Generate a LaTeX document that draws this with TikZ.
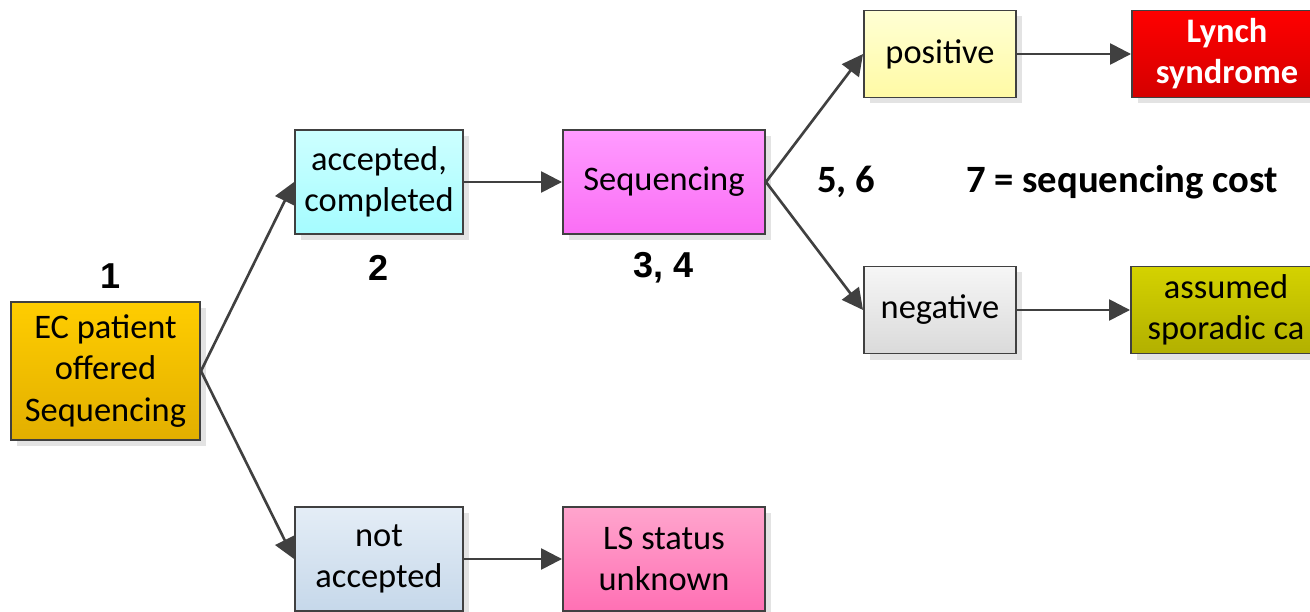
\documentclass[tikz,border=0pt]{standalone}
\usepackage{fontspec}
\setmainfont{Carlito}
\newfontfamily\stepfont{Liberation Sans}
\usepackage{tikz}
\usetikzlibrary{shapes,arrows.meta,shadows,positioning}
\definecolor{edgegray}{RGB}{64,64,64}
\tikzstyle{block} = [rectangle, draw=edgegray, line width=1.1pt, align=center,
minimum width=3.36cm, minimum height=2.08cm, inner sep=2pt,
font=\fontsize{19.6}{23.4}\selectfont,
drop shadow={shadow xshift=0.12cm, shadow yshift=-0.12cm, fill=black!11, opacity=1}]
\tikzstyle{line} = [draw=edgegray, line width=1.5pt, -{Triangle[length=0.42cm, width=0.42cm]}]
\tikzset{
  start/.style    = {block, minimum width=3.78cm, minimum height=2.76cm, top color={rgb,255:red,255;green,205;blue,0}, bottom color={rgb,255:red,226;green,175;blue,0}},
  accept/.style   = {block, top color={rgb,255:red,205;green,255;blue,255}, bottom color={rgb,255:red,165;green,252;blue,255}},
  reject/.style   = {block, top color={rgb,255:red,228;green,237;blue,246}, bottom color={rgb,255:red,198;green,216;blue,234}},
  seqbox/.style   = {block, minimum width=4.04cm, top color={rgb,255:red,255;green,155;blue,255}, bottom color={rgb,255:red,250;green,110;blue,245}},
  unknown/.style  = {block, minimum width=4.04cm, top color={rgb,255:red,255;green,165;blue,205}, bottom color={rgb,255:red,255;green,112;blue,180}},
  result/.style   = {block, minimum width=3.04cm, minimum height=1.74cm},
  outcome/.style  = {result, minimum width=3.8cm},
  steplabel/.style = {font=\stepfont\bfseries\fontsize{20.5}{24}\selectfont},
  costlabel/.style = {font=\bfseries\fontsize{22}{26}\selectfont}
}
\begin{document}
\begin{tikzpicture}
	\clip (0,0) rectangle (26.2,-12.24);
	% Place nodes
	\node [start] (ecPatient) at (2.11,-7.42) {EC patient\\offered\\Sequencing};
	% Level 2
	\node [accept, right of=ecPatient, node distance=5.47cm, yshift=3.78cm] (accepted) {accepted,\\completed}; \path [line] (ecPatient.east) -- (accepted.west);
	\node [reject, right of=ecPatient, node distance=5.47cm, yshift=-3.76cm] (notAccepted) {not\\accepted}; \path [line] (ecPatient.east) -- (notAccepted.west);
	% Level 3
	\node [seqbox, right of=accepted, node distance=5.70cm] (sequencing) {Sequencing}; \path [line] (accepted) -- (sequencing);
	\node [unknown, right of=notAccepted, node distance=5.70cm] (lsUnknown) {LS status\\unknown}; \path [line] (notAccepted) -- (lsUnknown);
	% Level 4
	\node [result, right of=sequencing, node distance=5.52cm, yshift=2.56cm, top color={rgb,255:red,255;green,255;blue,212}, bottom color={rgb,255:red,255;green,250;blue,165}] (positive) {positive}; \path [line] (sequencing.east) -- (positive.west);
	\node [result, right of=sequencing, node distance=5.52cm, yshift=-2.56cm, top color={rgb,255:red,246;green,246;blue,246}, bottom color={rgb,255:red,218;green,218;blue,218}] (negative) {negative}; \path [line] (sequencing.east) -- (negative.west);
	% Level 5
	\node [outcome, right of=positive, node distance=5.74cm, text=white, font=\bfseries\fontsize{19.6}{23.4}\selectfont, top color={rgb,255:red,255;green,0;blue,0}, bottom color={rgb,255:red,212;green,0;blue,0}] (lynch) {Lynch\\syndrome}; \path [line] (positive) -- (lynch);
	\node [outcome, right of=negative, node distance=5.72cm, top color={rgb,255:red,212;green,210;blue,0}, bottom color={rgb,255:red,178;green,176;blue,0}] (sporadic) {assumed\\sporadic ca}; \path [line] (negative) -- (sporadic);
	% step numbers
	\node [steplabel, above of=ecPatient, node distance=1.9cm, xshift=0.11cm] (stepOne) {1};
	\node [steplabel, below of=accepted, node distance=1.72cm] (stepTwo) {2};
	\node [steplabel, below of=sequencing, node distance=1.72cm] (stepThree) {3, 4};
	\node [costlabel, right of=sequencing, node distance=3.64cm] (stepFive) {5, 6};
	\node [costlabel, right of=sequencing, node distance=9.16cm] (stepSeven) {7 = sequencing cost};
\end{tikzpicture}
\end{document}
